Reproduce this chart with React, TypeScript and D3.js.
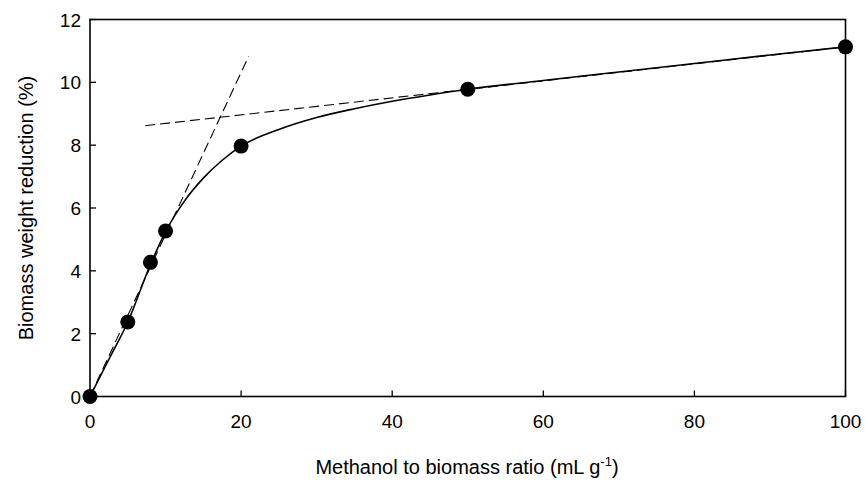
import React from "react";
import * as d3 from "d3";

// measured data points
const ratioX = [0, 5, 8, 10, 20, 50, 100];
const reductionY = [0, 2.37, 4.27, 5.27, 7.97, 9.78, 11.13];
// fitted curve
const fitX = [0, 2.5, 5, 8, 10, 12.5, 15, 17.5, 20, 25, 30, 35, 40, 45, 50, 60, 70, 80, 90, 100];
const fitY = [0, 1.18, 2.37, 4.2, 5.25, 6.22, 6.95, 7.52, 7.97, 8.5, 8.88, 9.16, 9.4, 9.6, 9.78, 10.06, 10.33, 10.6, 10.87, 11.13];
// tangent (dashed) lines
const tangent1X = [0, 21];
const tangent1Y = [0, 10.83];
const tangent2X = [7.3, 100];
const tangent2Y = [8.62, 11.13];
const xTicks = [0, 20, 40, 60, 80, 100];
const yTicks = [0, 2, 4, 6, 8, 10, 12];

const W = 865, H = 484;
const M = { left: 90, right: 845.5, top: 19.5, bottom: 396.5 };
const FONT = "'Liberation Sans', Arial, Helvetica, sans-serif";

export default function App() {
  const x = d3.scaleLinear().domain([0, 100]).range([M.left, M.right]);
  const y = d3.scaleLinear().domain([0, 12]).range([M.bottom, M.top]);
  const pts = ratioX.map((v, i) => [v, reductionY[i]] as [number, number]);
  const fit = fitX.map((v, i) => [v, fitY[i]] as [number, number]);
  const line = d3.line<[number, number]>().x(d => x(d[0])).y(d => y(d[1])).curve(d3.curveMonotoneX);
  const straight = d3.line<[number, number]>().x(d => x(d[0])).y(d => y(d[1]));
  const t1 = tangent1X.map((v, i) => [v, tangent1Y[i]] as [number, number]);
  const t2 = tangent2X.map((v, i) => [v, tangent2Y[i]] as [number, number]);
  const tickLen = 6;
  return (
    <svg width={W} height={H} style={{ position: "absolute", left: 0, top: 0, background: "#fff" }} fontFamily={FONT}>
      <path d={straight(t1) || ""} fill="none" stroke="#000" strokeWidth={1.1} strokeDasharray="10,5" />
      <path d={straight(t2) || ""} fill="none" stroke="#000" strokeWidth={1.1} strokeDasharray="10,5" />
      <path d={line(fit) || ""} fill="none" stroke="#000" strokeWidth={1.6} />
      <rect x={M.left} y={M.top} width={M.right - M.left} height={M.bottom - M.top} fill="none" stroke="#000" strokeWidth={1.6} />
      {xTicks.map(t => (
        <g key={"x" + t}>
          <line x1={x(t)} x2={x(t)} y1={M.bottom} y2={M.bottom - tickLen} stroke="#000" strokeWidth={1.3} />
          <text x={x(t)} y={428} textAnchor="middle" fontSize={19}>{t}</text>
        </g>
      ))}
      {yTicks.map(t => (
        <g key={"y" + t}>
          <line x1={M.left} x2={M.left + tickLen} y1={y(t)} y2={y(t)} stroke="#000" strokeWidth={1.3} />
          <text x={M.left - 9} y={y(t) + 7} textAnchor="end" fontSize={19}>{t}</text>
        </g>
      ))}
      {pts.map((p, i) => (
        <circle key={i} cx={x(p[0])} cy={y(p[1])} r={7.5} fill="#000" />
      ))}
      <text x={467} y={474} textAnchor="middle" fontSize={20}>
        Methanol to biomass ratio (mL g<tspan dy={-8} fontSize={13}>-1</tspan><tspan dy={8}>)</tspan>
      </text>
      <text transform={`translate(33,${(M.top + M.bottom) / 2}) rotate(-90)`} textAnchor="middle" fontSize={20}>
        Biomass weight reduction (%)
      </text>
    </svg>
  );
}
